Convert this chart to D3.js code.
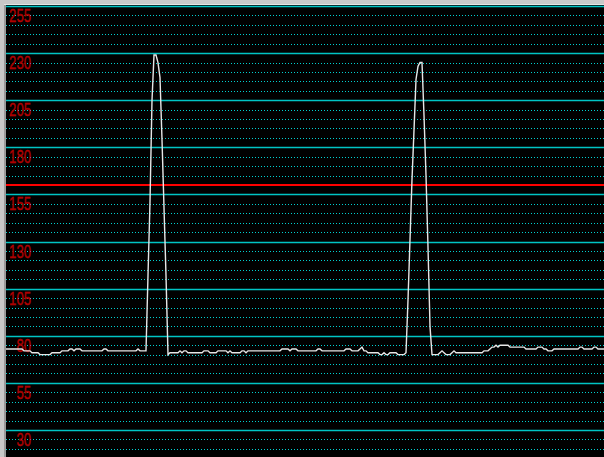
<!DOCTYPE html>
<html>
<head>
<meta charset="utf-8">
<script src="https://cdn.jsdelivr.net/npm/d3@7"></script>
<style>
  body { margin: 0; background: #c8c8c8; }
  svg { display: block; }
</style>
</head>
<body>
<div id="chart"></div>
<script>
// lecturas del sensor (una muestra cada ~2px)
var lecturas = [
  73,73,73,73,73,73,73,73,73,72,
  72,72,72,71,71,71,71,70,70,70,
  70,70,70,71,71,71,71,71,72,72,
  72,72,73,73,72,73,73,73,72,72,
  72,72,72,72,72,72,72,72,72,73,
  73,72,72,72,72,72,72,72,72,72,
  72,72,72,72,72,72,73,72,72,72,
  72,112,151,205,229,229,225,217,184,148,
  112,70,71,71,71,71,71,72,71,72,
  72,71,71,71,71,71,71,71,71,72,
  72,72,71,71,71,71,72,72,72,72,
  72,71,72,71,71,71,71,71,72,72,
  71,72,72,72,72,72,72,72,72,72,
  72,72,72,72,72,72,72,72,73,73,
  73,73,72,73,73,73,72,72,72,72,
  72,72,72,72,72,72,73,73,72,72,
  72,72,72,72,72,72,72,72,72,72,
  73,73,73,72,72,72,72,73,74,72,
  72,71,71,71,71,71,71,70,70,71,
  70,70,71,71,71,71,70,70,70,70,
  71,99,131,163,189,216,223,225,225,197,
  165,127,85,70,70,70,70,71,72,71,
  70,70,70,71,72,71,71,71,71,71,
  71,71,71,71,71,71,71,71,71,72,
  72,72,73,74,74,75,74,75,75,75,
  75,75,74,74,74,74,74,74,74,74,
  73,73,73,73,73,73,74,74,74,73,
  73,72,72,72,73,73,73,73,73,73,
  73,73,73,73,73,73,73,74,74,73,
  73,73,73,73,74,74,73,73,73,73
];

var etiquetas = [255, 230, 205, 180, 155, 130, 105, 80, 55, 30];
var umbral = 160;

var width = 604;
var height = 457;
var margenIzq = 6;
var margenSup = 6;

var svg = d3.select("#chart").append("svg")
  .attr("width", width)
  .attr("height", height);

// marco gris
svg.append("rect")
  .attr("x", 4).attr("y", 4)
  .attr("width", 2).attr("height", height)
  .attr("fill", "#9a9a9a");
svg.append("rect")
  .attr("x", 4).attr("y", 4)
  .attr("width", width).attr("height", 1)
  .attr("fill", "#e4e4e4");
svg.append("rect")
  .attr("x", margenIzq).attr("y", 5)
  .attr("width", width - margenIzq).attr("height", height)
  .attr("fill", "#000");

var xScale = d3.scaleLinear()
  .domain([0, lecturas.length - 1])
  .range([margenIzq, width]);

var yScale = d3.scaleLinear()
  .domain([30, 255])
  .range([430, margenSup]);

// lineas de la rejilla cada 5 unidades
var rejilla = d3.range(15, 256, 5);
var esPrincipal = d => (d - 30) % 25 == 0;
var yNitida = d => Math.round(yScale(d)) + 0.5;

svg.append("g")
  .selectAll("line")
  .data(rejilla).enter()
  .append("line")
  .attr("x1", margenIzq)
  .attr("x2", width)
  .attr("y1", yNitida)
  .attr("y2", yNitida)
  .attr("stroke", d => esPrincipal(d) ? "#00c4c4" : "#00d0d0")
  .attr("stroke-width", d => esPrincipal(d) ? 1.4 : 1)
  .attr("stroke-dasharray", d => esPrincipal(d) ? null : "1,2");

// etiquetas
svg.append("g")
  .selectAll("text")
  .data(etiquetas).enter()
  .append("text")
  .attr("x", 31)
  .attr("y", d => yScale(d) + 16)
  .attr("text-anchor", "end")
  .attr("textLength", d => String(d).length * 7.3)
  .attr("lengthAdjust", "spacingAndGlyphs")
  .attr("font-family", "Liberation Sans Narrow, Liberation Sans, Arial")
  .attr("font-size", "19px")
  .attr("fill", "#a00000")
  .attr("stroke", "#d00000")
  .attr("stroke-width", 0.35)
  .text(d => d);

// umbral
svg.append("line")
  .attr("x1", margenIzq)
  .attr("x2", width)
  .attr("y1", yScale(umbral))
  .attr("y2", yScale(umbral))
  .attr("stroke", "#ff0000")
  .attr("stroke-width", 2);

var linea = d3.line()
  .x((d, i) => xScale(i))
  .y(d => yScale(d));

svg.append("path")
  .datum(lecturas)
  .attr("d", linea)
  .attr("fill", "none")
  .attr("stroke", "#e6e6e6")
  .attr("stroke-width", 1.4);
</script>
</body>
</html>
